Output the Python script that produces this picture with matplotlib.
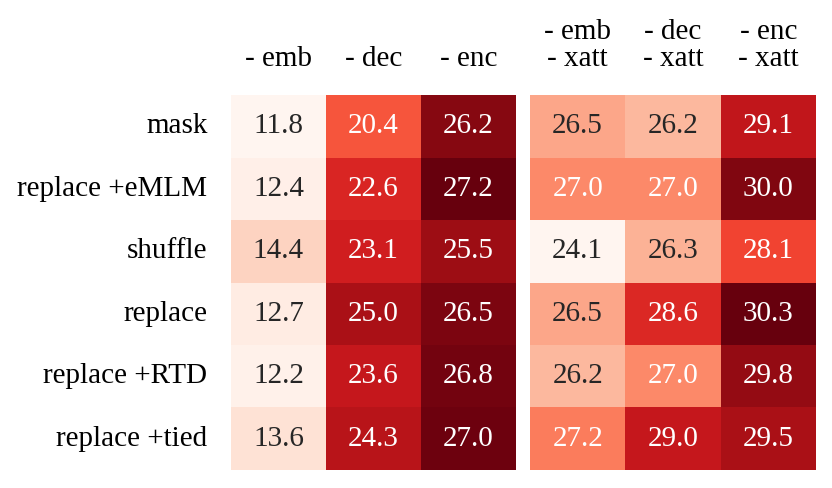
import numpy as np
import matplotlib
matplotlib.use('Agg')
import matplotlib.pyplot as plt
import seaborn as sns

plt.rcParams['font.family'] = ['Liberation Serif', 'DejaVu Serif']

### DATA ###
rows = ['mask', 'replace +eMLM', 'shuffle', 'replace', 'replace +RTD', 'replace +tied']
cols_left = ['- emb', '- dec', '- enc']
cols_right = ['- emb\n- xatt', '- dec\n- xatt', '- enc\n- xatt']

emb = [11.8, 12.4, 14.4, 12.7, 12.2, 13.6]
dec = [20.4, 22.6, 23.1, 25.0, 23.6, 24.3]
enc = [26.2, 27.2, 25.5, 26.5, 26.8, 27.0]
emb_xatt = [26.5, 27.0, 24.1, 26.5, 26.2, 27.2]
dec_xatt = [26.2, 27.0, 26.3, 28.6, 27.0, 29.0]
enc_xatt = [29.1, 30.0, 28.1, 30.3, 29.8, 29.5]

left = np.array([emb, dec, enc]).T
right = np.array([emb_xatt, dec_xatt, enc_xatt]).T

### FIGURE ###
fig = plt.figure(figsize=(8.32, 4.88), dpi=100)
ax1 = fig.add_axes([0.2776, 0.037, 0.3425, 0.768])
ax2 = fig.add_axes([0.637, 0.037, 0.3437, 0.768])

fs = 21
panels = [(ax1, left, cols_left, rows, None),
          (ax2, right, cols_right, False, 24.75)]
for ax, data, cols, ylabs, vmin in panels:
    sns.heatmap(data, ax=ax, cmap='Reds', annot=True, fmt='.1f',
                cbar=False, linewidths=0, vmin=vmin,
                annot_kws={'fontsize': fs},
                xticklabels=cols, yticklabels=ylabs)
    ax.xaxis.tick_top()
    ax.tick_params(axis='x', length=0, pad=17, labelsize=fs)
    ax.tick_params(axis='y', length=0, pad=17, labelsize=fs)
    for lab in ax.get_xticklabels():
        lab.set_rotation(0)
        lab.set_linespacing(1.05)
    for lab in ax.get_yticklabels():
        lab.set_rotation(0)

fig.savefig('out.png', dpi=100)
